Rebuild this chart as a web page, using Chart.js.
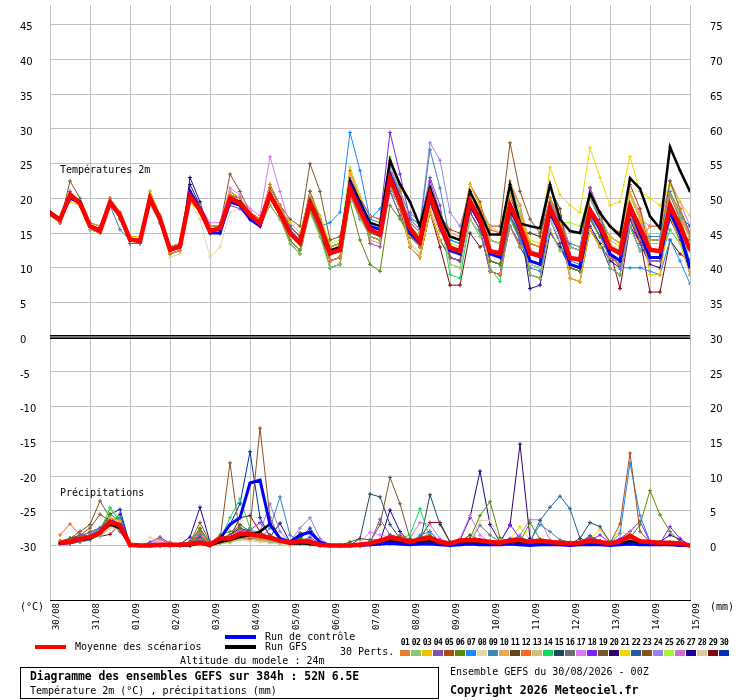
<!DOCTYPE html>
<html><head><meta charset="utf-8">
<script src="https://cdn.jsdelivr.net/npm/chart.js@4.4.0/dist/chart.umd.min.js"></script>
<style>
html,body{margin:0;padding:0;background:#fff;}
#wrap{position:relative;width:740px;height:700px;overflow:hidden;font-family:'DejaVu Sans Mono',monospace;color:#000;background:#fff;}
#c{position:absolute;left:0;top:0;width:740px;height:700px;}
.t{position:absolute;white-space:nowrap;font-size:10px;line-height:12px;}
.b{font-weight:bold;}
.sw{position:absolute;height:4px;width:31px;}
.box{position:absolute;left:20px;top:667px;width:419px;height:32px;border:1px solid #000;box-sizing:border-box;}
.num{position:absolute;top:638px;width:11px;text-align:center;font-size:8px;line-height:10px;font-weight:bold;letter-spacing:-0.5px;}
.cs{position:absolute;top:650px;width:10px;height:6px;}
</style></head>
<body>
<div id="wrap">
<canvas id="c" width="740" height="700"></canvas>
<div class="t" style="left:60px;top:164px;">Températures 2m</div>
<div class="t" style="left:60px;top:487px;">Précipitations</div>
<div class="t" style="left:20px;top:601px;">(°C)</div>
<div class="t" style="left:710px;top:601px;">(mm)</div>
<div class="sw" style="left:35px;top:645px;background:#ff0000;"></div>
<div class="t" style="left:75px;top:641px;">Moyenne des scénarios</div>
<div class="sw" style="left:225px;top:635px;background:#0000ff;"></div>
<div class="t" style="left:265px;top:631px;">Run de contrôle</div>
<div class="sw" style="left:225px;top:645px;background:#000000;"></div>
<div class="t" style="left:265px;top:641px;">Run GFS</div>
<div class="t" style="left:340px;top:646px;">30 Perts.</div>
<div class="t" style="left:180px;top:655px;">Altitude du modele : 24m</div>
<div class="box"></div>
<div class="t b" style="left:30px;top:670px;font-size:11.4px;">Diagramme des ensembles GEFS sur 384h : 52N 6.5E</div>
<div class="t" style="left:30px;top:685px;">Température 2m (°C) , précipitations (mm)</div>
<div class="t" style="left:450px;top:666px;">Ensemble GEFS du 30/08/2026 - 00Z</div>
<div class="t b" style="left:450px;top:684px;font-size:11.6px;">Copyright 2026 Meteociel.fr</div>
</div>
<script>
const HOURS_T = [0,6,12,18,24,30,36,42,48,54,60,66,72,78,84,90,96,102,108,114,120,126,132,138,144,150,156,162,168,174,180,186,192,198,204,210,216,222,228,234,240,246,252,258,264,270,276,282,288,294,300,306,312,318,324,330,336,342,348,354,360,366,372,378,384];
const HOURS_P = [6,12,18,24,30,36,42,48,54,60,66,72,78,84,90,96,102,108,114,120,126,132,138,144,150,156,162,168,174,180,186,192,198,204,210,216,222,228,234,240,246,252,258,264,270,276,282,288,294,300,306,312,318,324,330,336,342,348,354,360,366,372,378,384];
const DAY_TICKS = [0,24,48,72,96,120,144,168,192,216,240,264,288,312,336,360,384];
const DATE_LABELS = ['30/08','31/08','01/09','02/09','03/09','04/09','05/09','06/09','07/09','08/09','09/09','10/09','11/09','12/09','13/09','14/09','15/09'];
const TEMP_TICKS = [-30,-25,-20,-15,-10,-5,0,5,10,15,20,25,30,35,40,45];
const PRECIP_TICKS = [0,5,10,15,20,25,30,35,40,45,50,55,60,65,70,75];
const MEMBER_NAMES = ['01','02','03','04','05','06','07','08','09','10','11','12','13','14','15','16','17','18','19','20','21','22','23','24','25','26','27','28','29','30'];
const MEMBER_COLORS = ['#e8802a','#88c870','#f0c000','#8850a8','#b04c10','#5a8a08','#1888ff','#e8d4a8','#3888b8','#e8a858','#604818','#f86820','#d0c078','#10d860','#204860','#687078','#e078f8','#8020f8','#785828','#300070','#f0d800','#2060a0','#8c5020','#9880e8','#a0f830','#d070d0','#200098','#e0c8a0','#800808','#0030b8'];

const MEAN_T = [17.9,16.9,20.5,19.3,16.0,15.3,19.4,17.6,14.1,13.8,20.0,17.1,12.6,13.1,20.3,18.3,15.3,15.7,20.0,19.3,17.6,16.4,20.5,17.9,15.0,13.6,19.3,16.2,12.1,12.6,21.4,18.3,15.5,14.8,22.9,19.5,15.7,13.8,20.5,16.4,12.9,12.4,19.6,16.9,12.4,12.1,19.0,16.0,12.1,11.7,18.6,15.5,11.4,11.2,18.3,16.0,12.9,12.1,18.8,15.7,12.6,12.4,19.0,16.0,12.6];
const CONTROL_T = [18,17,20,19.5, 16,15.5,19.5,17.5, 14,14,20,17, 12.5,13,21,18.5, 15,15,19.5,19, 17,16,20.5,18, 15,13.5,19.5,16, 12,12.5,22,19, 16,15.5,23.5,20, 15,13.5,20,16, 12.5,12,19,16.5, 12,11.5,18.5,15.5, 11,10.5,18,15, 10.5,10,18,15.5, 12,11,18.5,15, 11.5,11.5,18,15, 10];
const GFS_T = [18,17,20.5,19.5, 16,15.5,19.5,17.5, 14,14,20,17, 12.5,13,20.5,18.5, 15.5,15.5,20,19.5, 17.5,16.5,20.5,18, 15,13.5,19.5,16, 12.5,13,22.5,19.5, 16.5,16,25.5,22, 19.5,16,21.5,17.5, 14.5,14,21,18, 14.8,14.8,22,16.4, 16,15.7,22,17, 15.3,15,20.7,17.9, 16,14.6,22.9,21.4, 17.4,15.7,27.4,24, 21];

const T01 = [18,16.5,20.5,19.5, 16.5,16,20,18, 14,14,20.5,17, 12,12.5,20,18, 16,16,20.5,20, 18,17,22,19, 15,13.5,19.5,16, 11,11.5,20.5,17.5, 17.5,17,25,21.5, 14.5,13,19.5,15.5, 14.5,14,21,18.5, 9.5,9,16,13, 13.5,13,20,17, 11.5,11,18.5,16, 11.5,10.5,17.5,14, 16,16,20.5,18.5, 14.5];
const T02 = [18,17,20,19, 15.5,15,19,17.5, 14,14,19.5,17, 13,13.5,21,19, 15,15,19.5,19, 17,16,19,17, 13.5,12,18,14.5, 10,10.5,20.5,17, 14.5,14,22,18.5, 16.5,15,21.5,17.5, 10.5,10,17,14.5, 14,13.5,22,18, 9,8.5,15.5,12.5, 13,12.5,20,17.5, 10,9,16,12.5, 14,14,20.5,17.5, 10.5];
const T03 = [18,17,19.5,19, 16,15.5,19,17.5, 14.5,14.5,21,17.5, 12,12.5,19.5,18, 16,16,21,20, 18,17,21,18.5, 16.5,15,20.5,17.5, 13,13.5,23.5,20, 15.5,15,22,19, 13,11.5,18,14, 14.5,14,22,19, 14,13.5,20.5,17.5, 13.5,13,20,17, 8.5,8,15.5,13, 14.5,13.5,20.5,17, 9,9,17.5,13.5, 9];
const T04 = [18,16.5,21,19.5, 15.5,15,19.5,17, 13.5,13.5,19.5,16.5, 12.5,13,21,18.5, 15,15,19,18.5, 17,16,20,17.5, 16,14.5,21,17, 13,13.5,22.5,19.5, 13.5,13,21,17.5, 18,16.5,23,19, 11.5,11,18,15.5, 9.5,9,17.5,14, 12,11.5,20,16.5, 13,12.5,21.5,18, 11.5,10.5,16,13.5, 11,11,17.5,14.5, 10.5];
const T05 = [18,17,20.5,19, 16,15.5,19.5,17.5, 14,14,20,17.5, 13,13.5,20.5,18.5, 15.5,15.5,20.5,19.5, 18,17,22,19, 16,14.5,21,17, 11,11.5,20.5,17.5, 14.5,14,22,18.5, 16.5,15,21.5,17.5, 15.5,15,22,19.5, 14,13.5,20.5,17.5, 9,8.5,15.5,12.5, 13,12.5,20,17.5, 16,15,22,18.5, 12.5,12.5,20.5,17, 12.5];
const T06 = [17.5,16.5,20,19, 16,15.5,19.5,17, 13.5,13.5,19.5,16.5, 12,12.5,20,18, 15,15,19.5,19, 17,16,19,17, 14,12.5,18.5,15, 10,10.5,19.5,14, 10.5,9.5,19,17, 14.5,13,19.5,15.5, 14.5,14,21,18.5, 11,10.5,17.5,14.5, 13.5,13,18.5,16.5, 10,9.5,17,14.5, 13,12,19,15.5, 12.5,12.5,17.5,15, 14];
const T07 = [18,17,20.5,19.5, 16,15.5,20,17.5, 14,14,20,17, 12.5,13,20.5,18.5, 16,16,20.5,20, 18,17,21,18.5, 15.5,14,19.5,16, 16.5,18,29.5,24, 17,18.5,21,19, 14.5,13,19.5,16, 14,13.5,20,17.5, 12.5,12,19,16, 12.5,12,19.5,16, 11,10.5,17.5,14.5, 12,10,10,10, 9.5,9,14,11, 7.7];
const T08 = [18,17,20,19, 16,15.5,19,17, 13.5,13.5,19,16.5, 11.5,12,19.5,17, 11.5,13,18,18.5, 17,16,20,17.5, 14,12.5,18.5,15, 12,12.5,22.5,19, 16.5,16,24,20.5, 15.5,14,20.5,16.5, 10.5,10,17,14.5, 14,13.5,20.5,17.5, 10.5,10,17,14, 13,12.5,20,17.5, 14.5,13.5,20.5,17, 11,11,17.5,14.5, 10.5];
const T09 = [18,17,20,19.5, 16,15.5,19,15.5, 14,14,20.5,17.5, 13,13.5,20.5,18.5, 16,16,19.5,19, 17.5,16.5,21,18.5, 15,13.5,20,16.5, 12.5,13,21,18, 17,16.5,24.5,21, 17.5,16,27,21.5, 14,13.5,19,16.5, 11,10.5,17.5,14.5, 10,9.5,17,14, 13.5,13,20.5,17.5, 12,11,18,14.5, 14.5,14.5,21,18, 15];
const T10 = [18,17,20.5,19.5, 16.5,16,20,18, 14.5,14.5,20.5,17.5, 12.5,13,20,18, 15,15,19.5,19, 17,16,20.5,18, 14,12.5,18,14.5, 11,11.5,21.5,18.5, 14,13.5,21,17.5, 13.5,12,18.5,15, 15,14.5,22,19, 16,15,22.5,19, 11,10.5,18,15, 10,9.5,17,14.5, 14,13,21,17.5, 13.5,13.5,20.5,17.5, 14];
const T11 = [18,16.5,20.5,19, 16,15.5,19.5,17.5, 14,14,20,17, 12.5,13,21,18.5, 15,15,20.5,19.5, 17.5,16.5,20,17.5, 13.5,12,18.5,14.5, 13,13.5,21.5,19, 16.5,16,22,19.5, 13,11.5,18,14, 11.5,11,18,15.5, 12.5,12,17.5,15, 15,14.5,21.5,18.5, 10,9.5,17,14.5, 11.5,10.5,19,14.5, 11,11,17.5,14.5, 10.5];
const T12 = [18,17,20.5,19.5, 16,15.5,19.5,17.5, 14,14,20,17, 13,13.5,20.5,18.5, 16,16,20,19.5, 18,17,21,18.5, 15,13.5,20.5,16.5, 11,11.5,24,20, 14.5,14,22,18.5, 16.5,15,21.5,17.5, 11.5,11,18,15.5, 15.5,15,22,19, 12,11.5,20,16.5, 8.5,8,15.5,13, 11.5,10.5,19,15, 14,14,20.5,17.5, 12.5];
const T13 = [18,17,20,19, 15.5,15,19.5,17.5, 14,14,20.5,17.5, 12.5,13,20,18, 15.5,15.5,20.5,19.5, 17.5,16.5,20,18, 16,14.5,18.5,16, 13,13.5,20.5,18, 15.5,15,24,20, 14.5,13,19.5,15.5, 14.5,14,21,18.5, 15.5,15,22,19, 13.5,13,20,17, 13,12.5,20,17.5, 16,15,22,18.5, 14,14,20.5,17.5, 14.5];
const T14 = [18,17,20.5,19.5, 16,15.5,19.5,17.5, 14,14,19.5,16.5, 12.5,13,20,18, 15,15,19.5,19, 17,16,20,17.5, 14,12.5,18.5,15, 12,12.5,20.5,18, 14.5,14,23,19, 16.5,15,21.5,17.5, 9,8.5,17,15, 10,8,17,14, 10.5,10,18.5,15, 10,9.5,17,14.5, 13,12,19,15.5, 11,11,15.5,13.5, 10.5];
const T15 = [18,17,20.5,19.5, 16,15.5,19.5,17.5, 14,14,20,17, 13,13.5,21,19, 16,16,20.5,20, 17.5,16.5,21,18.5, 16,14.5,20.5,17, 11,11.5,21.5,18, 16.5,16,24,20.5, 15.5,14,21.5,17, 14.5,14,21,18.5, 11,10.5,17.5,14.5, 9,8.5,17,13.5, 10,9.5,15.5,13.5, 10,9,16,12.5, 12.5,12.5,19,16, 12.5];
const T16 = [18,17,20,19.5, 16,15.5,19.5,17.5, 14,14,20,17.5, 13,13.5,21,19, 16,16,20,19.5, 17.5,16.5,20.5,18, 15,13.5,18.5,15.5, 13,13.5,20.5,18, 14.5,14,22,18.5, 14.5,13,19.5,15.5, 14.5,14,22,19, 11,10.5,17.5,14.5, 15,14.5,20,17.5, 13,12.5,20,17.5, 14.5,13.5,20.5,17, 11,11,17.5,14.5, 10.5];
const T17 = [18,17,21,19.5, 16,15.5,20,17.5, 14,14,20.5,17.5, 12.5,13,21,19, 16.5,16.5,21.5,20.5, 18.5,17.5,26,21, 16,14.5,20.5,17, 13,13.5,22.5,19.5, 15.5,15,23,19.5, 16.5,15,21.5,17.5, 14.5,14,21,18.5, 14,13.5,20.5,17.5, 10.5,10,17,14, 13,12.5,21.5,18, 16,15,20.5,18, 11,11,17.5,14.5, 12.5];
const T18 = [18,17,20.5,19.5, 16,15.5,19.5,17.5, 14,14,20,17, 12.5,13,20.5,18.5, 15.5,15.5,20.5,19.5, 17.5,16.5,21,18.5, 15.5,14,20.5,17, 13,13.5,23,20, 17.5,17,29.5,23.5, 17,15.5,22.5,18, 11.5,11,18,15.5, 9.5,9,17.5,14, 12,11.5,18.5,15.5, 13,12.5,20,17.5, 10,9,16,12.5, 14,14,20.5,17.5, 14.5];
const T19 = [18,16.5,22.5,20, 16.5,16,20,18, 14,14,21,17.5, 12.5,13,21,18.5, 15.5,15.5,21,20, 18,17,21.5,19, 17,16,25,21, 14,14.5,22,19, 15,14.5,22,18.5, 14.5,13,19.5,15.5, 14.5,14,21,18.5, 12.5,12,20.5,16.5, 13.5,13,20,17, 13,12.5,21.5,18, 13,12,17.5,14.5, 14,14,22.5,18.5, 15];
const T20 = [18,17,20.5,19.5, 16,15.5,19.5,17.5, 14,14,20,17, 12,12.5,22,19, 15,15,20,19, 17.5,16.5,20,17.5, 14,12.5,18.5,15, 11,11.5,20.5,17.5, 16.5,16,24,20.5, 14.5,13,19.5,15.5, 13,12.5,19.5,17, 14,13.5,20.5,17.5, 10.5,10,17,14, 11.5,11,18.5,16, 11.5,10.5,17.5,14, 11,11,19,15, 10.5];
const T21 = [18,17,20,19, 16,15.5,19.5,17.5, 14,14,20,17, 12.5,13,21,18.5, 16,16,20.5,20, 18,17,20.5,18.5, 15,13.5,20.5,16.5, 13,13.5,22.5,19.5, 15.5,15,22,19, 16.5,15,20.5,17, 13,12.5,21,17.5, 14,13.5,20.5,17.5, 14,13.5,24.5,20.5, 19,18,27.3,23, 19,19.5,26,21, 20,19,22,19.5, 17.5];
const T22 = [18,17,20.5,19.5, 16,15.5,19.5,17.5, 14,14,20,17.5, 13,13.5,20.5,18.5, 16,16,21,20, 17.5,16.5,20,17.5, 14,12.5,19.5,15.5, 13,13.5,22.5,19.5, 14.5,14,21,17.5, 14.5,13,19.5,15.5, 14.5,14,21,18.5, 11,10.5,16,13.5, 12,11.5,18.5,15.5, 8.5,8,15.5,13, 13,12,19,15.5, 14,14,20.5,17.5, 16];
const T23 = [18,17,20.5,19.5, 16,15.5,19.5,17.5, 14,14,20,17, 12.5,13,20.5,18.5, 16,16,23.5,21, 18,17,21,18.5, 14,12.5,18.5,15, 13,13.5,22.5,19.5, 14.5,14,22,18.5, 16.5,15,21.5,17.5, 14.5,14,21,18, 16,16,28,21, 17,15,19,16, 10,9.5,17,14.5, 14.5,13.5,19,16, 11,11,17.5,14.5, 11];
const T24 = [18,17,20.5,19.5, 16,15.5,19.5,17.5, 14,14,20,17, 12,12.5,20.5,18, 16,16,19.5,19.5, 17,16,20,17.5, 16,14.5,20.5,17, 12,12.5,20.5,18, 16.5,16,23,20, 17,16.5,28,25.5, 18,16,21,18, 11,10.5,19,15, 13.5,13,20,17, 10,9.5,17,14.5, 14.5,13.5,20.5,17, 12.5,12.5,19,16, 12.5];
const T25 = [18,17,20.5,19.5, 16,15.5,19.5,17.5, 14,14,20.5,17.5, 12.5,13,20.5,18.5, 15.5,15.5,20,19.5, 17.5,16.5,20.5,18, 15.5,14,21,17.5, 13.5,14,24.5,20.5, 17,16.5,26,21.5, 16,14.5,21,17, 13.5,13,20,17.5, 11,10.5,17.5,14.5, 12.5,12,20,16.5, 16.5,16,21,18, 13.5,12.5,19.5,16, 14.5,14.5,22,18.5, 15];
const T26 = [18,17,20.5,19.5, 16,15.5,19.5,17.5, 14,14,20,17, 12.5,13,21,18.5, 15.5,15.5,20.5,19.5, 18,17,21,18.5, 15,13.5,19.5,16, 13,13.5,22.5,19.5, 15.5,15,24,20, 13,11.5,18,14, 11.5,11,19.5,16, 14,13.5,20.5,17.5, 12,11.5,20,16.5, 10,9.5,17,14.5, 14.5,13.5,20.5,17, 16,16,22.5,19.5, 16];
const T27 = [18,17,20.5,19.5, 16,15.5,19.5,17.5, 14,14,20,17, 12,12.5,23,19.5, 15,15,19.5,19, 17.5,16.5,21,18.5, 14,12.5,18.5,15, 11,11.5,21.5,18, 16.5,16,24,20.5, 16.5,15,21.5,17.5, 11.5,11,18,15.5, 12.5,12,20.5,16.5, 7,7.5,15,13, 10,9.5,16,13.5, 11,10,17,13.5, 10.5,10,17,14, 11];
const T28 = [18,17,20.5,19.5, 16,15.5,19.5,17.5, 13.5,13.5,19,16.5, 12,12.5,20,18, 15,15,20,19, 17.5,16.5,20.5,18, 15,13.5,18.5,15.5, 11,11.5,20.5,17.5, 16.5,16,24,20.5, 15.5,14,21.5,17, 11.5,11,18,15.5, 14,13.5,19,16.5, 13.5,13,20,17, 13,12.5,20,17.5, 11.5,10.5,17.5,14, 14,14,20.5,17.5, 14.5];
const T29 = [18,17,20.5,19.5, 16,15.5,19.5,17.5, 14,14,20,17, 12.5,13,20.5,18.5, 16,16,20.5,20, 17,16,20.5,17.5, 16,14.5,19.5,16.5, 12,12.5,22.5,19, 14.5,14,22,18.5, 13,11.5,18,13, 7.5,7.5,15,13, 14,13.5,20.5,17.5, 13.5,13,18.5,16, 11.5,11,18.5,16, 12.5,7,16,14, 6.5,6.5,14,12, 11];
const T30 = [18,17,20.5,19.5, 16,15.5,19.5,17.5, 14,14,20,17, 12.5,13,20,18, 15.5,15.5,19.5,19, 18,17,20,18, 14,12.5,18.5,15, 10,10.5,20.5,17, 16.5,16,23,20, 15.5,14,19.5,16, 11.5,11,18,15.5, 9.5,9,16,13, 10.5,10,17,14, 11.5,11,20,17, 14.5,13.5,19,16, 11,11,17.5,14.5, 9];

const MEAN_P = [.4,.5,.9,1.2,1.8,3.4,2.9,.1, 0,0,.1,.1,.1,.2,.4,.1, 1,1,1.7,1.6,1.4,1.1,.7,.4, .6,.5,.1,0,0,0,.1,.3, .7,1.1,.9,.5,.9,1.1,.5,.3, .7,.8,.7,.5,.4,.7,.8,.5, .7,.5,.4,.3,.4,.7,.5,.3, .6,1.4,.6,.5,.4,.4,.3,0];
const CONTROL_P = [.3,.4,.8,1.2,2,3.5,3,0, 0,0,0,0,0,.2,.5,0, 1,3,4,9,9.4,3,1,.5, 1.5,1.9,.5,0,0,0,0,.1, .2,.3,.2,.1,.2,.2,.1,0, .1,.2,.1,.1,.1,.2,.1,0, .1,.1,.1,0,.1,.1,.1,0, .1,.2,.1,.1,.1,.1,0,0];
const GFS_P = [.3,.5,.8,1,1.8,3,2.5,0, 0,0,0,0,0,0,.3,0, .5,.8,1.2,1.5,2,3.1,1,.3, .3,.2,0,0,0,0,0,.2, .4,.6,.5,.3,.5,.6,.3,.1, .4,.5,.4,.3,.3,.5,.4,.2, .3,.3,.2,.2,.3,.5,.3,.2, .3,.6,.3,.2,.2,.2,.1,0];

const P01 = [.3,.5,1,1.5,2,3.5,3,0, 0,0,0,0,0,.2,.8,0, .5,.8,1.5,1.2,1,.8,.5,.3, .3,.2,0,0,0,0,0,.2, .4,.6,.8,.3,.5,.8,.3,.2, .4,.6,.5,.4,.3,.6,.7,.4, .5,.4,.3,.2,.3,.6,.4,.2, .5,1,.5,.4,.3,.3,.2,0];
const P02 = [.2,.4,.8,1,1.5,3,2.5,0, 0,0,0,0,0,0,.3,0, .3,.5,1,1.5,1,.6,.3,.2, .2,0,0,0,0,0,0,0, .2,.4,.5,.3,.4,.6,.2,.1, .2,.4,.3,.2,.2,.4,.5,.3, .3,.2,.2,.1,.2,.4,.3,.1, .3,.6,.3,.2,.2,.2,.1,0];
const P03 = [.5,.3,.6,1.2,2,4,3.5,.1, 0,0,0,.2,0,0,.5,0, .8,1.2,2,1.5,1.2,1,.5,.3, .5,.3,0,0,0,0,0,.1, .5,.8,.6,.4,.6,.9,.4,.2, .6,.8,.6,.4,.3,.7,.9,.5, .6,.5,.4,.3,.4,.8,.5,.3, .6,1.2,.6,.5,.4,.4,.2,0];
const P04 = [.4,.6,1.5,1.8,2.5,3.5,2,0, 0,.5,1.2,.3,0,.3,1,0, 1,1.5,2.2,2,1.8,1.2,.8,.5, .8,.5,0,0,0,0,0,.3, 3.8,1.5,.5,.3,.8,.5,.2,0, .5,.6,.5,.3,.2,.5,.6,.3, .4,.3,.3,.2,.3,1.2,.6,.3, .4,.8,.4,.3,.3,.3,.2,0];
const P05 = [.3,.5,1,1,1.5,3,3,0, 0,0,0,0,0,.2,.6,0, .5,.6,1.2,1,1.3,1.5,.6,.2, .4,.3,0,0,0,0,0,.5, .3,.5,1.5,.8,.6,.4,.3,.1, .4,.7,.6,.4,.3,.6,.7,.4, .5,.4,.3,.2,.3,.7,.5,.3, 3.1,13.3,2,.5,.3,.2,.1,0];
const P06 = [.6,.8,1.2,2,2.5,4.5,3.5,.2, 0,0,0,0,0,.5,2.5,.3, 1.5,2,2.5,1.2,1,1.5,.8,.5, 1,.8,.2,0,0,0,0,.4, .6,1,.8,.5,1.2,1.5,.6,.3, .5,1,4.3,6.3,1.1,.5,.5,3.3, .9,.6,.5,.4,.5,.9,.6,.4, .6,1,3,7.9,4.4,2,.5,0];
const P07 = [.2,.3,.5,.8,1.5,3.5,4,0, 0,0,0,0,0,0,.4,0, .4,.8,1.5,2,1.5,.6,.4,.2, .3,.2,0,0,0,0,0,.1, .2,.4,.5,.3,1.5,2,.4,.2, .3,.5,.6,.4,.3,1,1.2,.6, .6,.5,.4,.3,.4,.8,.6,.3, 1.7,11.9,4.3,.6,.4,.3,.2,0];
const P08 = [.4,.5,.7,1,1.2,2.5,2,0, 0,1.2,.5,0,0,0,.2,0, .3,.5,.8,.6,.5,.3,.2,0, .2,.1,0,0,0,0,0,0, .3,.5,.6,.4,.5,.7,.3,.1, .3,.5,3.6,3.6,1,.3,.2,.1, .3,.2,.2,.1,.2,.4,.3,.1, .3,.6,.3,.2,.2,.2,.1,0];
const P09 = [.3,.4,1,1.5,2.5,4,3,.1, 0,0,0,0,0,.3,1.5,0, .8,1,1.5,1.2,1,2.5,7,1.5, .6,.5,.1,0,0,0,0,.2, .4,.7,.9,.5,.8,1.2,.4,.2, .5,.8,.7,.5,.4,.8,1,.6, 3,2,.8,.5,.4,.8,.5,.3, .5,1.5,.6,.4,.3,.3,.2,0];
const P10 = [.5,.6,.9,1.3,2,3,2.5,0, 0,0,1.2,.3,0,0,.3,0, .6,.8,1.2,1,.8,.7,.5,.3, .3,.2,0,0,0,0,.2,.5, .3,.6,1,.5,.7,1.1,.5,.2, .3,.5,.4,.3,.2,.6,.7,.4, .4,.3,.3,.2,.3,.6,.4,.2, .4,.9,.4,.3,.3,.3,.2,0];
const P11 = [.2,.3,.5,.9,1.5,3.5,3,0, 0,0,0,0,0,0,.8,.2, 1,1.5,3,2,1.6,1.2,.8,.4, 1.8,1.8,.5,0,0,.5,1,.8, .8,1.5,1.2,.6,.8,1,.4,.3, .6,.9,.8,.6,.5,.9,1.1,.6, .7,.5,.4,.3,.4,.8,.5,.3, .6,1.3,.6,.5,.4,.4,.3,0];
const P12 = [1.5,3.1,1.5,1,2,4,3,0, 0,0,0,0,0,.4,1.8,0, .5,1,1.5,1.8,1.4,1,.6,.3, .4,.3,0,0,0,0,0,.3, .5,.9,.8,.4,.6,2,.5,.2, .5,.7,.6,.4,.3,.7,.8,.5, .5,.4,.3,.2,.3,.7,.5,.3, .5,1,.5,.4,.3,.3,.2,0];
const P13 = [.3,.4,.6,1,1.4,2.5,2.5,0, 0,0,0,0,0,0,.2,0, .3,.4,.8,1,.7,.5,.3,.1, .2,.1,0,0,0,0,0,0, .2,.3,.4,.2,.3,.5,.2,.1, .2,.3,.3,.2,.2,.4,.5,.3, .2,.2,.1,.1,.2,.4,.3,.1, .3,1.8,.3,.2,.2,.2,.1,0];
const P14 = [.5,.6,1,1.5,2,5.4,3.5,0, 0,0,0,0,0,0,.6,0, .8,4,6.7,2.5,1.5,1,.5,.2, .5,.4,0,0,0,0,0,.2, .3,.5,1,1.5,5.3,1,.3,0, .4,.6,.5,.3,.3,.6,.7,.4, .4,.3,.3,.2,.3,.6,.4,.2, .4,.8,.4,.3,.3,.3,.2,0];
const P15 = [.3,.5,.8,1.2,1.8,3,2.5,.1, 0,0,0,0,0,.6,1.2,0, .6,1,1.5,1.2,1,.8,.6,.4, .6,.5,0,0,0,0,1,7.4, 7,3,1,.5,.5,7.3,3,.5, .5,1.5,.8,.5,.4,.8,1,.6, .5,.4,.3,.2,1,3.3,2.7,.5, .5,1,.5,.4,.3,.3,.2,0];
const P16 = [.2,.3,.6,1,1.5,3,2.5,0, 0,0,0,0,0,.2,2,.3, .4,.6,1,.9,.7,.5,.4,.2, .3,.2,0,0,0,0,0,.3, .5,.7,1,.5,.8,.9,.4,.2, .3,.5,2.9,1.5,.5,.3,.3,.2, .5,.4,.3,.2,.3,.7,.5,.3, .4,.9,.4,.3,.3,.3,.2,0];
const P17 = [.4,.5,1,1.6,2.2,4,3.5,0, 0,.4,.6,0,0,0,.4,0, .7,1,1.8,1.6,1.2,.9,.6,.3, .4,.3,0,0,0,0,.4,1.9, 1.5,1.2,.8,.4,.7,1,.5,.3, 1,4.3,1.5,.5,.3,.5,.8,.5, .6,.5,.4,.3,.4,.8,.5,.3, .5,1.1,.5,.4,.3,.3,.2,0];
const P18 = [.3,.5,.9,1.2,1.6,3.2,2.8,0, 0,0,0,0,0,0,.5,0, .5,.9,1.5,2.2,3.3,1.5,.8,.4, .5,1.2,.2,0,0,0,0,.2, .4,.8,.7,.4,.6,1,.4,.2, .6,.9,.7,.5,.4,3,1,.6, .5,.4,.3,.2,.3,.7,1.5,.4, 1,2,3.5,.5,.3,2.7,1,0];
const P19 = [.5,1,2,3,6.4,4,3,.1, 0,0,0,0,0,.5,3.3,.5, .9,1.2,2,1.8,1.5,1,.7,.4, .7,.6,.1,0,0,0,0,.5, 3,9.8,6,1,.5,.3,.2,.1, .4,.6,.5,.4,.3,.7,.8,.5, .6,.5,.4,.3,.4,.8,.5,.3, .6,1.2,.6,.5,.4,.4,.3,0];
const P20 = [.4,.6,1,1.3,1.9,3.5,2.5,0, 0,0,0,0,0,.3,1,0, .6,.8,1.2,1.5,1.3,1,.6,.3, .4,.3,0,0,0,0,0,.2, .5,.9,.8,.5,.7,1.2,.6,.3, .2,.3,.5,.3,.5,2.9,14.6,1, .7,.5,.4,.3,.4,.9,.6,.3, .6,1.3,.6,.5,.4,.4,.3,0];
const P21 = [.3,.4,.8,1,1.5,3,2.5,0, 0,0,0,0,0,0,.3,0, .4,.7,1.3,2,1.6,1,.5,.2, .3,.2,0,0,0,0,0,.3, .3,.5,.6,.4,.9,1.4,.5,.2, .3,.5,.4,.3,.4,.9,2.7,.8, .8,.6,.5,.3,.4,1,2.2,.5, 2.2,1.2,.6,.5,.4,.4,.3,0];
const P22 = [.2,.4,.7,1.1,1.7,3.3,3,.1, 0,0,0,0,0,.4,.9,0, .7,1,1.6,1.4,1.2,.9,.5,.3, .6,.5,.1,0,0,0,0,.2, .6,1,.9,.6,.8,1.3,.5,.3, .5,.7,.6,.4,.3,.7,.9,.5, 3.6,5.5,7.1,5.3,1,.5,.3,.2, .5,1,.5,.4,.3,.3,.2,0];
const P23 = [.6,.8,1.5,2.5,4.5,3.5,2,0, 0,0,0,0,0,.2,2.4,.2, .8,11.9,1.2,2.5,16.9,4,1,.3, .5,.4,0,0,0,0,0,.3, .4,.7,.9,.5,.7,1,.4,.2, .4,.6,.5,.3,.3,.6,.7,.4, .5,.4,.3,.2,.3,.7,.5,.3, .5,1.1,.5,.4,.3,.3,.2,0];
const P24 = [.3,.5,1,1.4,2,3.5,3,0, 0,.3,1,0,0,0,.2,0, .5,.8,1.4,1.8,2,6,2,.5, 2.5,4,1,0,0,0,0,.2, .3,.5,.6,.3,.5,.8,.3,.1, .3,.5,.4,.3,.2,.5,.6,.3, .4,.3,.3,.2,.3,.6,.4,.2, .4,.8,.4,.3,.3,.3,.2,0];
const P25 = [.4,.5,.8,1.2,2,5.5,4,0, 0,0,0,0,0,.3,.7,0, .6,1,1.7,1.5,1.3,1,.6,.3, .4,.3,0,0,0,0,0,.2, .3,.4,.5,.6,.9,1,.3,.1, .2,.4,.3,.2,.2,.4,.5,.3, .3,.3,.2,.2,.2,.5,.4,.2, .3,.7,.3,.2,.2,.2,.1,0];
const P26 = [.3,.4,.9,1.3,2,4,3.5,0, 0,0,.8,.5,0,0,.3,0, .4,.7,1.2,1.4,1.1,.8,.5,.3, .5,.4,0,0,0,0,0,.3, .3,.5,.8,1,3.3,3,1,.3, .5,.6,.8,.5,.4,.7,1.5,3.7, 3.7,.8,.5,.3,.4,.6,.4,.2, .5,1,.5,.4,.3,.3,.2,0];
const P27 = [.5,1,1.2,.9,1.5,3,4.5,0, 0,0,0,0,.2,1.2,5.5,.5, .9,1.5,2.5,2,1.6,1.2,3.2,.5, 1.2,2,.3,0,0,0,0,.3, .5,5.1,2,.5,.3,.5,.2,.1, .8,4,10.7,3,.5,.3,.2,.1, .6,.5,.4,.3,.4,.8,.6,.3, .3,.5,.4,.3,.5,1.5,.9,0];
const P28 = [.3,.4,.7,1,1.4,2.8,2.5,0, 0,0,0,0,0,0,.2,0, .3,.5,.9,1,.8,.6,.4,.2, .2,.2,0,0,0,0,0,.1, .2,.4,.5,.3,.4,.6,.2,.1, .3,.4,.3,.2,.2,.4,.5,.3, .3,.2,.2,.1,.2,.4,.3,.1, .3,.6,.3,.2,.2,.2,.1,0];
const P29 = [.6,1,1.5,1.4,1.3,1.6,3,0, 0,0,0,0,0,.3,.8,0, 1,1.2,4,4.3,2,1,.6,.3, .6,.4,0,0,0,0,0,.2, .2,.3,.5,.6,1,3.3,3.3,.5, .4,.6,.5,.3,.3,.6,.7,.4, .5,.4,.3,.2,.3,.7,.5,.3, .5,1,.5,.4,.3,.3,.2,0];
const P30 = [.2,.3,.6,1,2,4.5,5.2,.1, 0,0,0,0,0,.5,1.4,.2, .6,3,6,13.5,4,1.2,.5,.3, .9,2.5,.5,0,0,0,0,.3, .5,.8,1,.5,.9,1.2,.6,.3, .5,.7,.6,.4,.3,.7,.8,.5, .6,.5,.4,.3,.4,1.4,.6,.3, .6,1.3,.6,.5,.4,.4,.3,0];

const MEMBERS_T = [T01,T02,T03,T04,T05,T06,T07,T08,T09,T10,T11,T12,T13,T14,T15,T16,T17,T18,T19,T20,T21,T22,T23,T24,T25,T26,T27,T28,T29,T30];
const MEMBERS_P = [P01,P02,P03,P04,P05,P06,P07,P08,P09,P10,P11,P12,P13,P14,P15,P16,P17,P18,P19,P20,P21,P22,P23,P24,P25,P26,P27,P28,P29,P30];

const wrap = document.getElementById('wrap');
MEMBER_NAMES.forEach((n, i) => {
  const d = document.createElement('div'); d.className = 'num'; d.style.left = (400 + 11 * i - 0.5) + 'px'; d.textContent = n; wrap.appendChild(d);
  const s = document.createElement('div'); s.className = 'cs'; s.style.left = (400 + 11 * i) + 'px'; s.style.background = MEMBER_COLORS[i]; wrap.appendChild(s);
});

function pts(hours, vals) { return vals.map((v, i) => ({ x: hours[i], y: v })); }

const datasets = [];
function member(hours, vals, color, axis) {
  return { data: pts(hours, vals), yAxisID: axis, borderColor: color, backgroundColor: color, borderWidth: 1,
    pointStyle: 'cross', pointRadius: 2, pointBorderColor: color, pointBorderWidth: 1, pointHoverRadius: 0,
    fill: false, tension: 0, order: 10 };
}
MEMBERS_T.forEach((v, i) => datasets.push(member(HOURS_T, v, MEMBER_COLORS[i], 'y')));
MEMBERS_P.forEach((v, i) => datasets.push(member(HOURS_P, v, MEMBER_COLORS[i], 'y2')));
function special(hours, vals, color, w, axis, order, pr) {
  return { data: pts(hours, vals), yAxisID: axis, borderColor: color, backgroundColor: color, borderWidth: w,
    pointStyle: 'cross', pointRadius: pr, pointBorderColor: color, pointBorderWidth: 1, fill: false, tension: 0, order: order };
}
datasets.push(special(HOURS_T, GFS_T, '#000000', 2.5, 'y', 3, 1.5));
datasets.push(special(HOURS_P, GFS_P, '#000000', 2.5, 'y2', 3, 1.5));
datasets.push(special(HOURS_T, CONTROL_T, '#0000ff', 3, 'y', 2, 1.5));
datasets.push(special(HOURS_P, CONTROL_P, '#0000ff', 3, 'y2', 2, 1.5));
datasets.push(special(HOURS_T, MEAN_T, '#ff0000', 4.5, 'y', 1, 0));
datasets.push(special(HOURS_P, MEAN_P, '#ff0000', 4.5, 'y2', 1, 0));

const zeroLine = {
  id: 'zeroLine',
  beforeDatasetsDraw(chart) {
    const { ctx, chartArea: a, scales } = chart;
    const p = Math.round(scales.y.getPixelForValue(0));
    ctx.save(); ctx.fillStyle = '#000';
    ctx.fillRect(a.left, p - 2, a.right - a.left, 1.5);
    ctx.fillRect(a.left, p + 0.5, a.right - a.left, 1.5);
    ctx.restore();
  }
};

function noPad(s) { s.paddingTop = 0; s.paddingBottom = 0; s.paddingLeft = 0; s.paddingRight = 0; }
const GRID = '#c0c0c0';
new Chart(document.getElementById('c'), {
  type: 'line',
  data: { datasets },
  options: {
    responsive: false, animation: false, parsing: false, normalized: true,
    events: [],
    layout: { padding: { left: 20, right: 0, top: 0, bottom: 0 } },
    plugins: { legend: { display: false }, tooltip: { enabled: false } },
    scales: {
      x: {
        type: 'linear', min: 0, max: 384, position: 'bottom',
        afterBuildTicks: s => { s.ticks = DAY_TICKS.map(v => ({ value: v })); },
        afterFit: s => { s.height = 100; noPad(s); },
        grid: { color: GRID, lineWidth: 1, drawTicks: false },
        border: { display: true, color: '#000', width: 1 },
        ticks: { autoSkip: false, minRotation: 90, maxRotation: 90, padding: 3, labelOffset: 7,
          color: '#000', font: { family: 'DejaVu Sans Mono', size: 9 },
          callback: v => { const i = DAY_TICKS.indexOf(v); return i >= 0 ? DATE_LABELS[i] : ''; } }
      },
      y: {
        type: 'linear', position: 'left', min: -37.857142857, max: 47.857142857,
        afterBuildTicks: s => { s.ticks = TEMP_TICKS.map(v => ({ value: v })); },
        afterFit: s => { s.width = 30; noPad(s); },
        grid: { color: GRID, lineWidth: 1, drawTicks: false },
        border: { display: false },
        ticks: { crossAlign: 'far', padding: 0, labelOffset: 3, color: '#000', font: { family: 'DejaVu Sans', size: 10 } }
      },
      y2: {
        type: 'linear', position: 'right', min: -7.857142857, max: 77.857142857,
        afterBuildTicks: s => { s.ticks = PRECIP_TICKS.map(v => ({ value: v })); },
        afterFit: s => { s.width = 50; noPad(s); },
        grid: { drawOnChartArea: false, drawTicks: false },
        border: { display: false },
        ticks: { padding: 20, labelOffset: 3, color: '#000', font: { family: 'DejaVu Sans', size: 10 } }
      }
    }
  },
  plugins: [zeroLine]
});
</script>
</body></html>
